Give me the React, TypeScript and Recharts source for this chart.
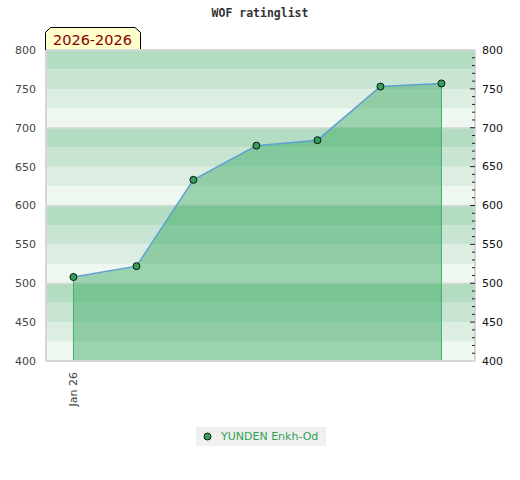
import { ComposedChart, Area, XAxis, YAxis, ReferenceArea, ReferenceLine, Legend, Customized } from 'recharts'

const dates = ['2026-01-01', '2026-02-01', '2026-03-01', '2026-04-01', '2026-05-01', '2026-06-01', '2026-07-01']
const ratings = [508, 522, 633, 677, 684, 753, 757]
const playerName = 'YUNDEN Enkh-Od'

const xTickDates = ['2026-01-01']
const xTickLabels = ['Jan 26']
const xRange = ['2025-12-18T12:00:00Z', '2026-07-17T12:00:00Z']

const yTicks = [400, 450, 500, 550, 600, 650, 700, 750, 800]
const gridLines = [500, 600, 700]
const bandStarts = [400, 425, 450, 475, 500, 525, 550, 575, 600, 625, 650, 675, 700, 725, 750, 775]
const minorTicks = Array.from({ length: 41 }, (_, i) => 400 + i * 10)

const title = 'WOF ratinglist'
const periodLabel = '2026-2026'

const bandColors = ['#eff7f1', '#dcede2', '#c8e5d4', '#b3dcc3']
const borderColor = '#d6d6d6'

const toTime = (d: string) => new Date(d.length > 10 ? d : d + 'T00:00:00Z').getTime()

const data = dates.map((d, i) => ({ t: toTime(d), rating: ratings[i] }))
const first = data[0]
const last = data[data.length - 1]

const BottomTick = (props: any) => {
  const { x, payload } = props
  const idx = xTickDates.findIndex((d) => toTime(d) === payload.value)
  return (
    <text
      x={x}
      y={372}
      transform={`rotate(-90 ${x} 372)`}
      textAnchor="end"
      dy="0.35em"
      fontFamily="DejaVu Sans"
      fontSize={11}
      fill="#444"
    >
      {xTickLabels[idx] ?? ''}
    </text>
  )
}

const RightTick = (props: any) => {
  const { x, y, payload } = props
  const v = payload.value
  const major = v % 50 === 0
  const edge = v === 400 || v === 800
  return (
    <g>
      {!edge && <line x1={x - 7 - (major ? 5 : 3)} x2={x - 7} y1={y} y2={y} stroke="#222" strokeWidth={1} />}
      {major && (
        <text x={x} y={y} dy="0.35em" fontFamily="DejaVu Sans" fontSize={11} fill="#111" textAnchor="start">
          {v}
        </text>
      )}
    </g>
  )
}

const Decorations = () => (
  <g>
    <text x={260} y={17} textAnchor="middle" fontFamily="DejaVu Sans Mono" fontWeight="bold" fontSize={11.5} fill="#333">
      {title}
    </text>
    <path d="M45.5,50 V32.5 L50.5,27.5 H135 L140.5,32.5 V50" fill="#ffffcc" stroke="#000" strokeWidth={1} />
    <text x={92.5} y={45} textAnchor="middle" fontFamily="DejaVu Sans" fontSize={14.5} fill="#8b0000">
      {periodLabel}
    </text>
  </g>
)

const LegendBox = () => (
  <div
    style={{
      display: 'flex',
      alignItems: 'center',
      background: '#f0f0f0',
      width: 130,
      height: 19,
      fontFamily: 'DejaVu Sans',
      fontSize: 11,
      color: '#2ea052',
    }}
  >
    <svg width={25} height={19}>
      <circle cx={11.5} cy={9.5} r={3.5} fill="#32a05a" stroke="#111" strokeWidth={1} />
    </svg>
    <span>{playerName}</span>
  </div>
)

export default function App() {
  return (
    <div style={{ position: 'absolute', left: 0, top: 0 }}>
      <ComposedChart width={520} height={480} data={data} margin={{ top: 50, right: 0, left: 0, bottom: 40 }}>
        <XAxis
          dataKey="t"
          type="number"
          scale="time"
          domain={[toTime(xRange[0]), toTime(xRange[1])]}
          ticks={xTickDates.map(toTime)}
          tick={<BottomTick />}
          tickLine={false}
          axisLine={{ stroke: borderColor, strokeWidth: 2 }}
          height={60}
          allowDataOverflow
        />
        <YAxis
          yAxisId="left"
          orientation="left"
          width={46}
          domain={[400, 800]}
          ticks={yTicks}
          tickLine={false}
          tickSize={0}
          tickMargin={10}
          axisLine={{ stroke: borderColor, strokeWidth: 2 }}
          tick={{ fontFamily: 'DejaVu Sans', fontSize: 11, fill: '#444' }}
          allowDataOverflow
        />
        <YAxis
          yAxisId="right"
          orientation="right"
          width={45}
          domain={[400, 800]}
          ticks={minorTicks}
          interval={0}
          tickLine={false}
          tickSize={0}
          tickMargin={7}
          axisLine={{ stroke: borderColor, strokeWidth: 2 }}
          tick={<RightTick />}
          allowDataOverflow
        />
        {bandStarts.map((s) => (
          <ReferenceArea
            key={s}
            yAxisId="left"
            y1={s}
            y2={s + 25}
            fill={bandColors[(s % 100) / 25]}
            fillOpacity={1}
            stroke="none"
          />
        ))}
        {gridLines.map((g) => (
          <ReferenceArea
            key={'g' + g}
            yAxisId="left"
            y1={g - 1}
            y2={g + 1}
            fill="#dcdcdc"
            fillOpacity={1}
            stroke="none"
          />
        ))}
        <ReferenceLine yAxisId="left" y={800} stroke={borderColor} strokeWidth={2} />
        <Area
          yAxisId="left"
          type="linear"
          dataKey="rating"
          name={playerName}
          stroke="#5f9fd6"
          strokeWidth={1.5}
          fill="rgb(38,162,80)"
          fillOpacity={0.42}
          dot={{ r: 3.5, fill: '#32a05a', stroke: '#111', strokeWidth: 1, fillOpacity: 1 }}
          activeDot={false}
          isAnimationActive={false}
        />
        <ReferenceLine
          yAxisId="left"
          segment={[{ x: first.t, y: 400 }, { x: first.t, y: first.rating - 2 }]}
          stroke="#3cb46a"
          strokeOpacity={1}
          strokeWidth={1}
        />
        <ReferenceLine
          yAxisId="left"
          segment={[{ x: last.t, y: 400 }, { x: last.t, y: last.rating - 2 }]}
          stroke="#3cb46a"
          strokeOpacity={1}
          strokeWidth={1}
        />
        <Legend
          verticalAlign="bottom"
          content={<LegendBox />}
          wrapperStyle={{ left: 196, top: 427, bottom: 'auto', width: 130, height: 19 }}
        />
        <Customized component={Decorations} />
      </ComposedChart>
    </div>
  )
}
